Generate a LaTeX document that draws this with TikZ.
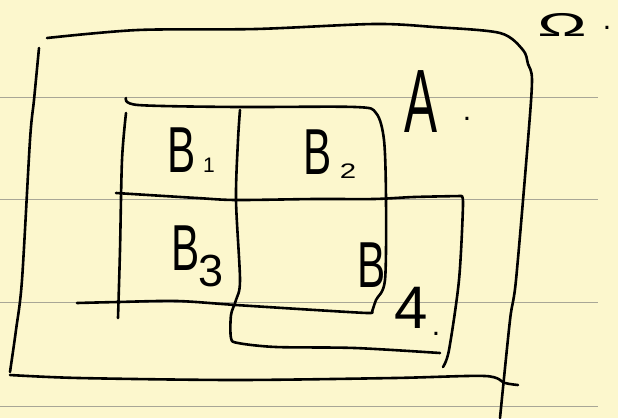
\documentclass[tikz,border=0pt]{standalone}
\usepackage{fontspec}
\setmainfont{Liberation Sans}
\usetikzlibrary{positioning}
\definecolor{paper}{RGB}{252,247,205}
\definecolor{rulegray}{RGB}{168,166,150}
\tikzset{
  ink/.style={line width=2.6pt, line cap=round, line join=round, black},
  ruled/.style={line width=1pt, rulegray},
  letter/.style={inner sep=0pt, xscale=0.65, font=\fontsize{65}{65}\selectfont},
  digit/.style={inner sep=0pt, font=\fontsize{#1}{#1}\selectfont},
  dotmark/.style={inner sep=0pt, font=\fontsize{30}{30}\selectfont}
}

\begin{document}
\begin{tikzpicture}[x=1pt, y=-1pt]
    % Paper and ruled lines
    \fill[paper] (0,0) rectangle (618,418);
    \useasboundingbox (0,0) rectangle (618,418);
    \foreach \y in {97,199,302,406} {
        \draw[ruled] (0,\y) -- (598,\y);
    }

    % Omega box
    \draw[ink] plot[smooth] coordinates {(47,38) (138,30) (256,29) (374,24) (434,27) (500,33) (523,50) (528,64) (532,80) (528,140) (516,280) (510,320) (500,418)};
    \draw[ink] plot[smooth] coordinates {(39,48) (34,100) (30,140) (22,280) (16,330) (10,372)};
    \draw[ink] plot[smooth] coordinates {(10,375) (79,378) (236,380) (394,378) (485,376) (505,383) (518,385)};

    % Box A
    \draw[ink] plot[smooth] coordinates {(126,98) (138,105) (236,107) (355,107) (376,113) (384,140) (386,200) (385,280) (376,300) (372,312)};
    \draw[ink] plot[smooth] coordinates {(126,113) (122,160) (120,250) (118,318)};
    \draw[ink] plot[smooth] coordinates {(77,303) (118,302) (177,301) (236,305) (315,310) (367,313) (372,312)};

    % Dividers and box B4
    \draw[ink] plot[smooth] coordinates {(240,110) (238,140) (236,200) (240,280) (236,300) (231,315) (231,338) (238,343) (276,347) (355,348) (440,353)};
    \draw[ink] plot[smooth] coordinates {(116,193) (197,198) (236,200) (315,199) (374,199) (414,197) (461,196)};
    \draw[ink] plot[smooth] coordinates {(461,196) (463,205) (459,280) (449,350) (443,367)};

    % Labels
    \node[inner sep=0pt, xscale=2, font=\fontsize{33}{33}\selectfont] (omega) at (562,25) {Ω};
    \node[dotmark] (omegadot) at (607,28) {.};
    \node[inner sep=0pt, xscale=0.55, font=\fontsize{90}{90}\selectfont] (alab) at (421,102) {A};
    \node[dotmark] (adot) at (467,119) {.};

    \node[letter] (b1) at (182,150) {B};
    \node[digit=21] (b1sub) at (209,165) {1};
    \node[letter] (b2) at (318,152) {B};
    \node[digit=21, xscale=1.4] (b2sub) at (348,171) {2};
    \node[letter] (b3) at (186,248) {B};
    \node[digit=45] (b3sub) at (211,271) {3};
    \node[letter] (b4) at (372,265) {B};
    \node[digit=60] (b4sub) at (411,308) {4};
    \node[dotmark] (b4dot) at (436,334) {.};
\end{tikzpicture}
\end{document}
